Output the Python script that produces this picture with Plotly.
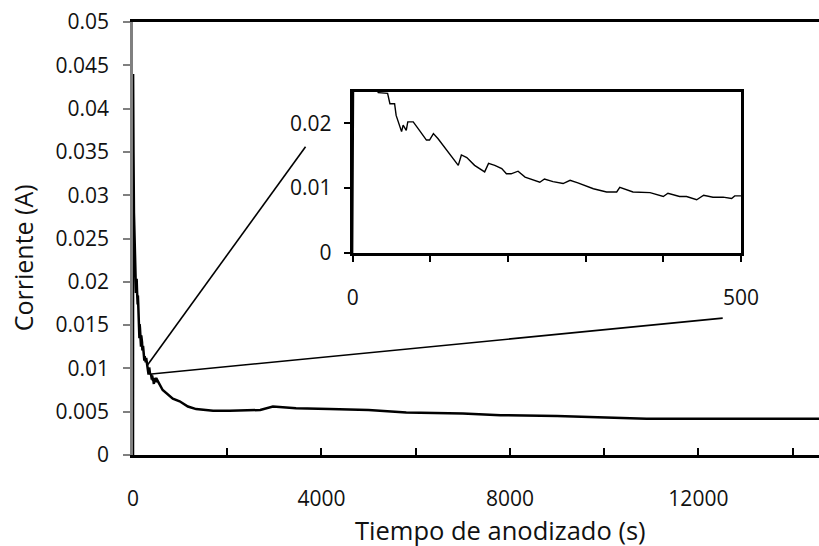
import plotly.graph_objects as go

# ---- data ----
time_s = [0, 2, 10, 20, 33, 45, 48, 54, 56, 63, 65, 69, 71, 78, 86, 95, 99, 104, 110,
          121, 136, 140, 147, 157, 170, 175, 183, 192, 198, 204, 213, 222, 241, 247,
          258, 271, 280, 290, 310, 327, 340, 344, 361, 383, 400, 406, 421, 430, 443,
          452, 464, 477, 488, 492, 500, 630, 845, 990, 1165, 1340, 1700, 2050, 2700,
          2970, 3460, 4170, 5000, 5800, 7000, 7800, 9000, 10900, 14600]
current_A = [0.0, 0.044, 0.035, 0.028, 0.0247, 0.0246, 0.0230, 0.0230, 0.0212, 0.0187,
             0.0197, 0.0189, 0.0202, 0.0202, 0.0189, 0.0174, 0.0174, 0.0184, 0.0176,
             0.0158, 0.0135, 0.0151, 0.0147, 0.0135, 0.0125, 0.0138, 0.0135, 0.0130,
             0.0122, 0.0122, 0.0126, 0.0117, 0.0109, 0.0114, 0.0110, 0.0107, 0.0112,
             0.0108, 0.0099, 0.0094, 0.0094, 0.0101, 0.0094, 0.0093, 0.0087, 0.0092,
             0.0087, 0.0087, 0.0082, 0.0089, 0.0086, 0.0086, 0.0084, 0.0088, 0.0088,
             0.0075, 0.0065, 0.0062, 0.0056, 0.0053, 0.0051, 0.0051, 0.0052, 0.0056,
             0.0054, 0.0053, 0.0052, 0.0049, 0.0048, 0.0046, 0.0045, 0.0042, 0.0042]

main_y_ticks = [0, 0.005, 0.01, 0.015, 0.02, 0.025, 0.03, 0.035, 0.04, 0.045, 0.05]
main_y_text = ["0", "0.005", "0.01", "0.015", "0.02", "0.025", "0.03", "0.035", "0.04", "0.045", "0.05"]
main_x_ticks = [0, 2000, 4000, 6000, 8000, 10000, 12000, 14000]
main_x_text = ["0", "", "4000", "", "8000", "", "12000", ""]

inset_x_ticks = [0, 100, 200, 300, 400, 500]
inset_x_text = ["0", "", "", "", "", "500"]
inset_y_ticks = [0, 0.01, 0.02]
inset_y_text = ["0", "0.01", "0.02"]

# connector lines (main-axis data coordinates): [x0, y0, x1, y1]
connector_upper = [308, 0.0104, 3662, 0.0356]
connector_lower = [393, 0.00935, 12516, 0.0158]

FONT = "Open Sans"
TXT = "#111111"

fig = go.Figure()
fig.add_trace(go.Scatter(x=time_s, y=current_A, mode="lines",
                         line=dict(color="black", width=2.5), xaxis="x", yaxis="y",
                         showlegend=False, hoverinfo="skip"))
fig.add_trace(go.Scatter(x=time_s, y=current_A, mode="lines",
                         line=dict(color="black", width=1.4), xaxis="x2", yaxis="y2",
                         showlegend=False, hoverinfo="skip"))

for c in (connector_upper, connector_lower):
    fig.add_shape(type="line", xref="x", yref="y", x0=c[0], y0=c[1], x1=c[2], y1=c[3],
                  line=dict(color="black", width=1.6))

fig.update_layout(
    template="none",
    width=819, height=546,
    margin=dict(l=133, r=0, t=22, b=91, pad=0, autoexpand=False),
    paper_bgcolor="white", plot_bgcolor="white",
    font=dict(family=FONT, size=21, color=TXT),
    xaxis=dict(range=[0, 14560], tickvals=main_x_ticks, ticktext=main_x_text,
               ticks="inside", ticklen=7, tickwidth=2, tickcolor="black",
               showline=True, linecolor="black", linewidth=3, mirror=True,
               showgrid=False, zeroline=False, ticklabelstandoff=23,
               automargin=False, domain=[0, 1]),
    yaxis=dict(range=[0, 0.05], tickvals=main_y_ticks, ticktext=main_y_text,
               ticks="outside", ticklen=7, tickwidth=1.5, tickcolor="#808080",
               showline=True, linecolor="#808080", linewidth=2.5, mirror=False,
               showgrid=False, zeroline=False, ticklabelstandoff=10,
               automargin=False, domain=[0, 1]),
    xaxis2=dict(range=[0, 500], tickvals=inset_x_ticks, ticktext=inset_x_text,
                ticks="outside", ticklen=6, tickwidth=1.5, tickcolor="black",
                showline=True, linecolor="black", linewidth=3, mirror=True,
                showgrid=False, zeroline=False, anchor="y2", automargin=False,
                domain=[0.3202, 0.8862], ticklabelstandoff=18),
    yaxis2=dict(range=[0, 0.0248], tickvals=inset_y_ticks, ticktext=inset_y_text,
                ticks="outside", ticklen=6, tickwidth=1.5, tickcolor="black",
                showline=True, linecolor="black", linewidth=3, mirror=True,
                showgrid=False, zeroline=False, anchor="x2", automargin=False,
                domain=[0.4665, 0.8383], ticklabelstandoff=8),
    annotations=[
        dict(text="Corriente (A)", xref="paper", yref="paper", x=-0.16, y=0.455,
             xanchor="center", yanchor="middle", textangle=-90, showarrow=False,
             font=dict(family=FONT, size=25, color=TXT)),
        dict(text="Tiempo de anodizado (s)", xref="paper", yref="paper", x=0.536, y=-0.173,
             xanchor="center", yanchor="middle", showarrow=False,
             font=dict(family=FONT, size=25.5, color=TXT)),
    ],
)

fig.write_html("out.html")
